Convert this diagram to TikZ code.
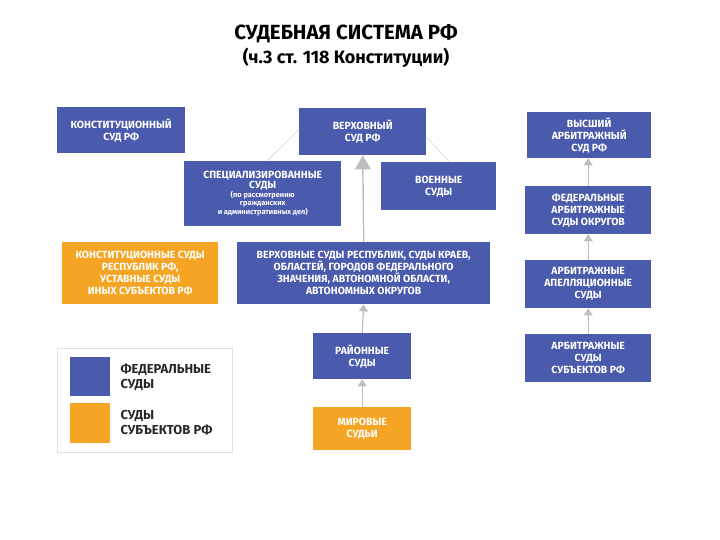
\documentclass[tikz,border=0pt]{standalone}
\usepackage{fontspec}
\setmainfont{Fira Sans}
\usetikzlibrary{arrows.meta}
\definecolor{fedblue}{RGB}{74,90,172}
\definecolor{subjorange}{RGB}{245,165,35}
\definecolor{arrgray}{RGB}{190,190,190}
\definecolor{legtext}{RGB}{40,40,40}
\tikzset{
  box/.style={fill=fedblue, text=white, anchor=north west, align=center, inner sep=2pt,
    font=\fontsize{10.4}{12}\selectfont\bfseries},
  obox/.style={box, fill=subjorange},
  uparrow/.style={draw=arrgray, line width=1.2pt, -{Triangle[width=9pt,length=7pt]}},
  bigarrow/.style={draw=arrgray, line width=1.4pt, -{Triangle[width=16pt,length=14pt]}},
  faint/.style={draw=black!13, line width=0.8pt},
}
\begin{document}
\begin{tikzpicture}[x=1pt,y=-1pt]
\useasboundingbox (0,0) rectangle (720,540);
% title
\node[font=\fontsize{20.5}{24}\selectfont\bfseries, text=black] (t1) at (346,34) {СУДЕБНАЯ СИСТЕМА РФ};
\node[font=\fontsize{18}{22}\selectfont\bfseries, text=black] (t2) at (346,58) {(ч.3 ст. 118 Конституции)};
% boxes
\node[box, minimum width=128pt, minimum height=46pt] (ks) at (57,107) {КОНСТИТУЦИОННЫЙ\\СУД РФ};
\node[box, minimum width=127pt, minimum height=47pt] (vs) at (299,108) {ВЕРХОВНЫЙ\\СУД РФ};
\node[box, minimum width=124pt, minimum height=46pt] (vas) at (527,112) {ВЫСШИЙ\\АРБИТРАЖНЫЙ\\СУД РФ};
\node[box, minimum width=157pt, minimum height=65pt, font=\fontsize{10.4}{10}\selectfont\bfseries] (spec) at (184,161) {СПЕЦИАЛИЗИРОВАННЫЕ\\СУДЫ\\[-1.5pt]{\fontsize{7.4}{8}\selectfont (по рассмотрению}\\[-1.5pt]{\fontsize{7.4}{8}\selectfont гражданских}\\[-1.5pt]{\fontsize{7.4}{8}\selectfont и административных дел)}};
\node[box, minimum width=115pt, minimum height=48pt] (voen) at (381,162) {ВОЕННЫЕ\\СУДЫ};
\node[box, minimum width=126pt, minimum height=48pt] (fas) at (525,186) {ФЕДЕРАЛЬНЫЕ\\АРБИТРАЖНЫЕ\\СУДЫ ОКРУГОВ};
\node[obox, minimum width=156pt, minimum height=62pt] (kss) at (62,242) {КОНСТИТУЦИОННЫЕ СУДЫ\\РЕСПУБЛИК РФ,\\УСТАВНЫЕ СУДЫ\\ИНЫХ СУБЪЕКТОВ РФ};
\node[box, minimum width=253pt, minimum height=62pt] (vsr) at (237,242) {ВЕРХОВНЫЕ СУДЫ РЕСПУБЛИК, СУДЫ КРАЕВ,\\ОБЛАСТЕЙ, ГОРОДОВ ФЕДЕРАЛЬНОГО\\ЗНАЧЕНИЯ, АВТОНОМНОЙ ОБЛАСТИ,\\АВТОНОМНЫХ ОКРУГОВ};
\node[box, minimum width=126pt, minimum height=48pt] (aas) at (525,260) {АРБИТРАЖНЫЕ\\АПЕЛЛЯЦИОННЫЕ\\СУДЫ};
\node[box, minimum width=98pt, minimum height=46pt] (rs) at (313,333) {РАЙОННЫЕ\\СУДЫ};
\node[box, minimum width=126pt, minimum height=48pt] (ass) at (525,334) {АРБИТРАЖНЫЕ\\СУДЫ\\СУБЪЕКТОВ РФ};
\node[obox, minimum width=98pt, minimum height=43pt] (ms) at (313,407) {МИРОВЫЕ\\СУДЬИ};
% legend
\node[draw=black!12, line width=0.8pt, anchor=north west, minimum width=175pt, minimum height=104pt, inner sep=0pt] (leg) at (57,348) {};
\node[fill=fedblue, anchor=north west, minimum width=40pt, minimum height=39pt, inner sep=0pt] (lb) at (70,357) {};
\node[fill=subjorange, anchor=north west, minimum width=40pt, minimum height=40pt, inner sep=0pt] (lo) at (70,403) {};
\node[anchor=west, align=left, text=legtext, font=\fontsize{13}{15}\selectfont\bfseries] (lbt) at (117,377) {ФЕДЕРАЛЬНЫЕ\\СУДЫ};
\node[anchor=west, align=left, text=legtext, font=\fontsize{13}{15}\selectfont\bfseries] (lot) at (117,423) {СУДЫ\\СУБЪЕКТОВ РФ};
% connectors
\draw[faint] ([yshift=2.5pt]vs.west) -- ([xshift=83pt]spec.north west);
\draw[faint] ([yshift=-5.5pt]vs.east) -- ([xshift=69pt]voen.north west);
\draw[bigarrow] (vsr.north) -- (vs.south);
\draw[uparrow] (rs.north) -- (vsr.south);
\draw[uparrow] (ms.north) -- (rs.south);
\draw[uparrow] (fas.north) -- ([xshift=-1pt]vas.south);
\draw[uparrow] (aas.north) -- (fas.south);
\draw[uparrow] (ass.north) -- (aas.south);
\end{tikzpicture}
\end{document}
